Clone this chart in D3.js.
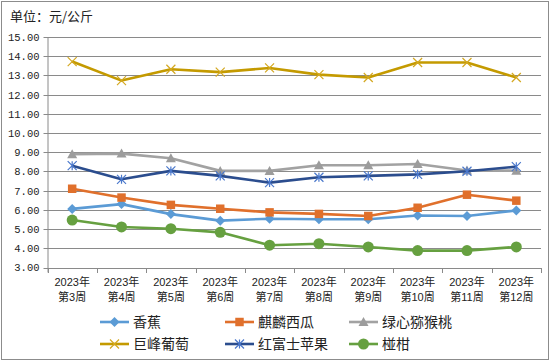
<!DOCTYPE html>
<html>
<head>
<meta charset="utf-8">
<script src="https://cdn.jsdelivr.net/npm/d3@7"></script>
<style>
  body { margin: 0; background: #fff; }
  svg { display: block; }
</style>
</head>
<body>
<div id="chart"></div>
<script>
// weeks on the x axis
const years = ["2023年", "2023年", "2023年", "2023年", "2023年", "2023年", "2023年", "2023年", "2023年", "2023年"];
const weeks = ["第3周", "第4周", "第5周", "第6周", "第7周", "第8周", "第9周", "第10周", "第11周", "第12周"];
const yTicks = [3, 4, 5, 6, 7, 8, 9, 10, 11, 12, 13, 14, 15];

// prices, yuan per kg
const banana     = [6.05, 6.30, 5.78, 5.44, 5.54, 5.51, 5.51, 5.71, 5.68, 5.97];
const watermelon = [7.10, 6.64, 6.26, 6.06, 5.87, 5.79, 5.68, 6.11, 6.79, 6.48];
const kiwi       = [8.90, 8.93, 8.69, 8.03, 8.03, 8.32, 8.32, 8.39, 8.05, 8.04];
const grape      = [13.72, 12.73, 13.32, 13.17, 13.39, 13.04, 12.89, 13.67, 13.67, 12.89];
const apple      = [8.30, 7.59, 8.03, 7.77, 7.42, 7.70, 7.77, 7.85, 8.01, 8.25];
const tangerine  = [5.47, 5.11, 5.02, 4.83, 4.16, 4.24, 4.07, 3.88, 3.88, 4.07];

const seriesNames = ["香蕉", "麒麟西瓜", "绿心猕猴桃", "巨峰葡萄", "红富士苹果", "椪柑"];

let W = 550, H = 362;
let plot = {left: 47.5, right: 541, top: 37, bottom: 267.5};

// custom markers (excel style)
const mDiamond = { draw(c, s) { let r = Math.sqrt(s) / 2; c.moveTo(0, -r); c.lineTo(r, 0); c.lineTo(0, r); c.lineTo(-r, 0); c.closePath(); } };
const mSquare = { draw(c, s) { let r = Math.sqrt(s) / 2; c.rect(-r, -r, 2 * r, 2 * r); } };
const mTriangle = { draw(c, s) { let r = Math.sqrt(s) / 2; c.moveTo(0, -r); c.lineTo(r, r * 0.8); c.lineTo(-r, r * 0.8); c.closePath(); } };
const mCross = { draw(c, s) { let r = Math.sqrt(s) / 2; c.moveTo(-r, -r); c.lineTo(r, r); c.moveTo(r, -r); c.lineTo(-r, r); } };
const mStar = { draw(c, s) { let r = Math.sqrt(s) / 2; c.moveTo(-r, -r); c.lineTo(r, r); c.moveTo(r, -r); c.lineTo(-r, r); c.moveTo(0, -r); c.lineTo(0, r); } };
const mCircle = { draw(c, s) { let r = Math.sqrt(s) / 2; c.moveTo(r, 0); c.arc(0, 0, r, 0, 2 * Math.PI); } };

const series = [
  {name: seriesNames[0], values: banana,     line: "#5B9BD5", sym: mDiamond,  size: 100, fill: "#5B9BD5", stroke: null},
  {name: seriesNames[1], values: watermelon, line: "#E0702C", sym: mSquare,   size: 72,  fill: "#E0702C", stroke: null},
  {name: seriesNames[2], values: kiwi,       line: "#A2A2A2", sym: mTriangle, size: 100, fill: "#9C9C9C", stroke: null},
  {name: seriesNames[3], values: grape,      line: "#C49A00", sym: mCross,    size: 81,  fill: "none", stroke: "#D4A820"},
  {name: seriesNames[4], values: apple,      line: "#2B4D8E", sym: mStar,     size: 81,  fill: "none", stroke: "#4A78CC"},
  {name: seriesNames[5], values: tangerine,  line: "#66A040", sym: mCircle,   size: 121, fill: "#66A040", stroke: null}
];

let svg = d3.select("#chart").append("svg")
  .attr("width", W)
  .attr("height", H)
  .attr("font-family", "'Noto Sans CJK SC', sans-serif");

// outer border
svg.append("rect")
  .attr("x", 1.5).attr("y", 1.5)
  .attr("width", W - 3).attr("height", H - 4)
  .attr("fill", "#fff")
  .attr("stroke", "#8c8c8c");

// unit label
svg.append("text")
  .attr("x", 10).attr("y", 21)
  .attr("font-size", 13)
  .attr("fill", "#222")
  .text("单位：元/公斤");

let x = d3.scaleBand()
  .domain(weeks)
  .range([plot.left, plot.right]);

let y = d3.scaleLinear()
  .domain([3, 15])
  .range([plot.bottom, plot.top]);

// gridlines
svg.append("g")
  .selectAll("line")
  .data(yTicks)
  .join("line")
    .attr("x1", plot.left - 4)
    .attr("x2", plot.right)
    .attr("y1", d => Math.round(y(d)) + 0.5)
    .attr("y2", d => Math.round(y(d)) + 0.5)
    .attr("stroke", "#8a8a8a")
    .attr("stroke-width", 1);

// y axis
let yAxis = svg.append("g")
  .attr("transform", `translate(${plot.left},0)`)
  .call(d3.axisLeft(y).tickValues(yTicks).tickFormat(d3.format(".2f")).tickSize(0).tickPadding(8));
yAxis.select(".domain").attr("stroke", "#8a8a8a").attr("d", `M0.5,${plot.top}V${plot.bottom + 5}`);
yAxis.selectAll("text")
  .attr("font-family", "'Liberation Mono', monospace")
  .attr("font-size", 10.5)
  .attr("fill", "#222");

// x axis ticks at category boundaries
let bounds = weeks.map(d => x(d)).concat([plot.right]);
svg.append("g")
  .selectAll("line")
  .data(bounds)
  .join("line")
    .attr("x1", d => Math.round(d) + 0.5)
    .attr("x2", d => Math.round(d) + 0.5)
    .attr("y1", Math.round(plot.bottom))
    .attr("y2", Math.round(plot.bottom) + 5)
    .attr("stroke", "#8a8a8a");

// x labels, two lines
let xl = svg.append("g")
  .attr("font-family", "'Liberation Sans', 'Noto Sans CJK SC', sans-serif")
  .attr("font-size", 11)
  .attr("fill", "#222")
  .attr("text-anchor", "middle")
  .selectAll("text")
  .data(weeks)
  .join("text")
    .attr("y", 286);
xl.append("tspan")
  .attr("x", d => x(d) + x.bandwidth() / 2)
  .text((d, i) => years[i]);
xl.append("tspan")
  .attr("x", d => x(d) + x.bandwidth() / 2)
  .attr("dy", 14.5)
  .text(d => d);

let cx = (d, i) => x(weeks[i]) + x.bandwidth() / 2;

let line = d3.line()
  .x(cx)
  .y(d => y(d));

// series lines + markers
series.forEach(s => {
  let g = svg.append("g");
  g.append("path")
    .datum(s.values)
    .attr("d", line)
    .attr("fill", "none")
    .attr("stroke", s.line)
    .attr("stroke-width", 2.6)
    .attr("stroke-linejoin", "round");
  g.selectAll("path.m")
    .data(s.values)
    .join("path")
      .attr("class", "m")
      .attr("transform", (d, i) => `translate(${cx(d, i)},${y(d)})`)
      .attr("d", d3.symbol().type(s.sym).size(s.size))
      .attr("fill", s.fill)
      .attr("stroke", s.stroke || "none")
      .attr("stroke-width", 1.2);
});

// legend
let legendCols = [100, 225, 349];
let legendRows = [322, 344];
let legend = svg.append("g")
  .selectAll("g")
  .data(series)
  .join("g")
    .attr("transform", (d, i) => `translate(${legendCols[i % 3]},${legendRows[Math.floor(i / 3)]})`);

legend.append("line")
  .attr("x1", 0).attr("x2", 29)
  .attr("stroke", d => d.line)
  .attr("stroke-width", 2.6);
legend.append("path")
  .attr("transform", "translate(14.5,0)")
  .attr("d", d => d3.symbol().type(d.sym).size(d.size)())
  .attr("fill", d => d.fill)
  .attr("stroke", d => d.stroke || "none")
  .attr("stroke-width", 1.2);
legend.append("text")
  .attr("x", 33)
  .attr("y", 5)
  .attr("font-size", 14)
  .attr("fill", "#222")
  .text(d => d.name);
</script>
</body>
</html>
